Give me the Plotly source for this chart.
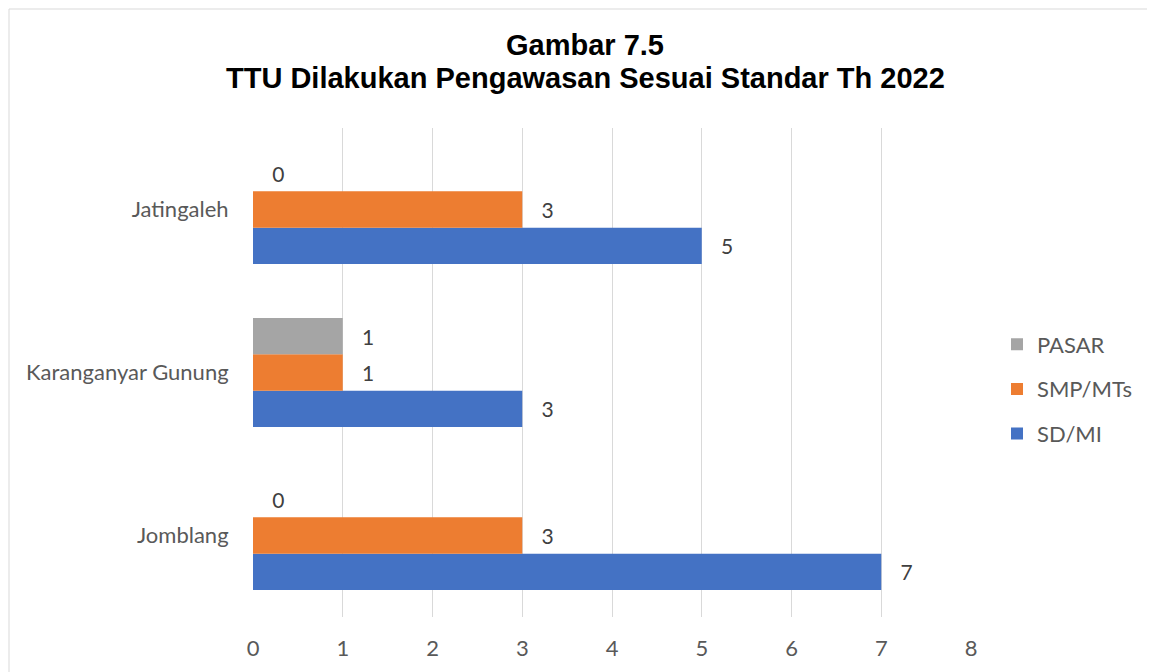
import plotly.graph_objects as go

categories = ["Jomblang", "Karanganyar Gunung", "Jatingaleh"]
sd_mi = [7, 3, 5]
smp_mts = [3, 1, 3]
pasar = [0, 1, 0]
x_ticks = [0, 1, 2, 3, 4, 5, 6, 7, 8]
title_lines = ["Gambar 7.5", "TTU Dilakukan Pengawasan Sesuai Standar Th 2022"]

series = [
    ("SD/MI", sd_mi, "#4472C4", 3),
    ("SMP/MTs", smp_mts, "#ED7D31", 2),
    ("PASAR", pasar, "#A5A5A5", 1),
]

FONT = "Lato, Open Sans, sans-serif"
FS = 22

fig = go.Figure()
for name, vals, color, rank in series:
    fig.add_trace(go.Bar(
        y=categories, x=vals, name=name, orientation="h", legendgroup=name,
        legendrank=rank,
        marker=dict(color=color, line=dict(width=0)),
        text=vals, texttemplate="   %{x}", textposition="outside",
        textfont=dict(family=FONT, size=21, color="#404040"),
        cliponaxis=False,
    ))

# page body has an 8px margin, so target pixel positions are shifted by -8
OFF = 8
L, R, T, B = 253 - OFF, 971 - OFF, 128 - OFF, 617 - OFF
W, H = 1155, 672
def px(x): return (x - OFF - L) / (R - L)
def py(y): return (B - (y - OFF)) / (B - T)

annotations = [
    dict(text="<b>%s</b>" % title_lines[0], x=px(585), y=py(45), xref="paper", yref="paper",
         xanchor="center", yanchor="middle", showarrow=False,
         font=dict(family="Liberation Sans, Arial, sans-serif", size=29, color="black")),
    dict(text="<b>%s</b>" % title_lines[1], x=px(585), y=py(78), xref="paper", yref="paper",
         xanchor="center", yanchor="middle", showarrow=False,
         font=dict(family="Liberation Sans, Arial, sans-serif", size=29, color="black")),
]

fig.update_layout(
    width=W, height=H,
    margin=dict(l=L, r=W - R, t=T, b=H - B, autoexpand=False),
    paper_bgcolor="white", plot_bgcolor="white",
    barmode="group", bargap=0.33, bargroupgap=0,
    font=dict(family=FONT, size=FS, color="#595959"),
    showlegend=True,
    legend=dict(
        traceorder="grouped", x=px(997), xanchor="left", y=py(389), yanchor="middle",
        font=dict(family=FONT, size=FS, color="#595959"), itemwidth=30, tracegroupgap=13,
        bgcolor="rgba(0,0,0,0)",
    ),
    xaxis=dict(
        range=[0, 8], tickvals=x_ticks, showgrid=True, gridcolor="#D9D9D9", gridwidth=1,
        zeroline=False, showline=False, ticks="outside", ticklen=12,
        tickcolor="rgba(0,0,0,0)", tickfont=dict(family=FONT, size=FS, color="#595959"),
    ),
    yaxis=dict(
        categoryorder="array", categoryarray=categories, showgrid=False, zeroline=False,
        showline=False, ticks="outside", ticklen=19, tickcolor="rgba(0,0,0,0)",
        tickfont=dict(family=FONT, size=FS, color="#595959"),
    ),
    annotations=annotations,
    shapes=[dict(
        type="rect", xref="paper", yref="paper",
        x0=px(9), x1=px(1175), y0=py(700), y1=py(9),
        line=dict(color="#D9D9D9", width=1), fillcolor="rgba(0,0,0,0)", layer="below",
    )],
)

fig.write_html("out.html")
